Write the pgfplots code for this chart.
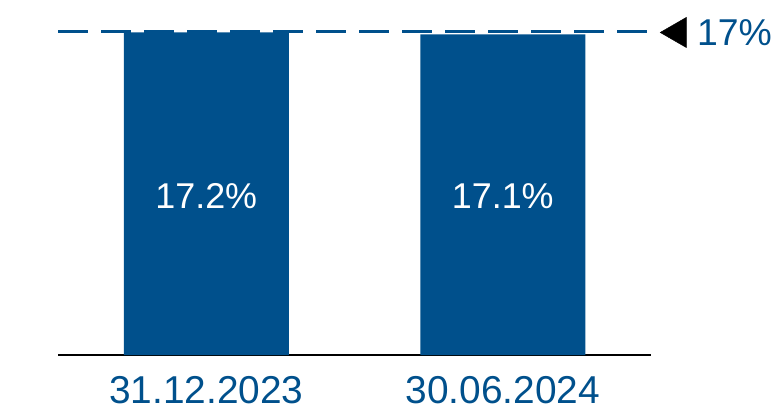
\documentclass[border=0pt]{standalone}
\usepackage{pgfplots}
\pgfplotsset{compat=1.18}
\usepackage{fontspec}
\setmainfont{Liberation Sans}
\definecolor{bankblue}{HTML}{00508C}
\begin{document}
\begin{tikzpicture}
\begin{axis}[
  scale only axis,
  width=593bp, height=354.4bp,
  xmin=-0.5, xmax=1.5,
  ymin=0, ymax=18.9,
  clip=false,
  axis x line=bottom,
  axis y line=none,
  x axis line style={-, black, line width=1.5bp},
  xtick={0,1},
  xticklabels={31.12.2023,30.06.2024},
  major tick length=0pt,
  xticklabel style={font=\fontsize{39}{42}\selectfont, text=bankblue, anchor=base, inner sep=0pt, yshift=-48bp},
  ybar, bar width=165bp,
]
\addplot[fill=bankblue, draw=none] coordinates {(0,17.2) (1,17.1)};
\end{axis}
\begin{axis}[
  scale only axis,
  width=593bp, height=354.4bp,
  xmin=-0.5, xmax=1.5,
  ymin=0, ymax=18.9,
  clip=false,
  axis lines=none,
]
\addplot[bankblue, line width=3bp, dash pattern=on 30bp off 13bp] coordinates {(-0.5,17.25) (1.5,17.25)};
\addplot[only marks, mark=triangle*, mark size=17.5bp, mark options={rotate=90, fill=black, draw=none}] coordinates {(1.59,17.2)};
\node[anchor=west, text=bankblue, font=\fontsize{37.5}{40}\selectfont, inner sep=0pt] at (axis cs:1.655,17.2) {17\%};
\node[text=white, font=\fontsize{36}{40}\selectfont] at (axis cs:0,8.45) {17.2\%};
\node[text=white, font=\fontsize{36}{40}\selectfont] at (axis cs:1,8.45) {17.1\%};
\end{axis}
\path ([shift={(-58bp,-55bp)}]current axis.south west) rectangle ([shift={(122bp,0.6bp)}]current axis.north east);
\end{tikzpicture}
\end{document}
